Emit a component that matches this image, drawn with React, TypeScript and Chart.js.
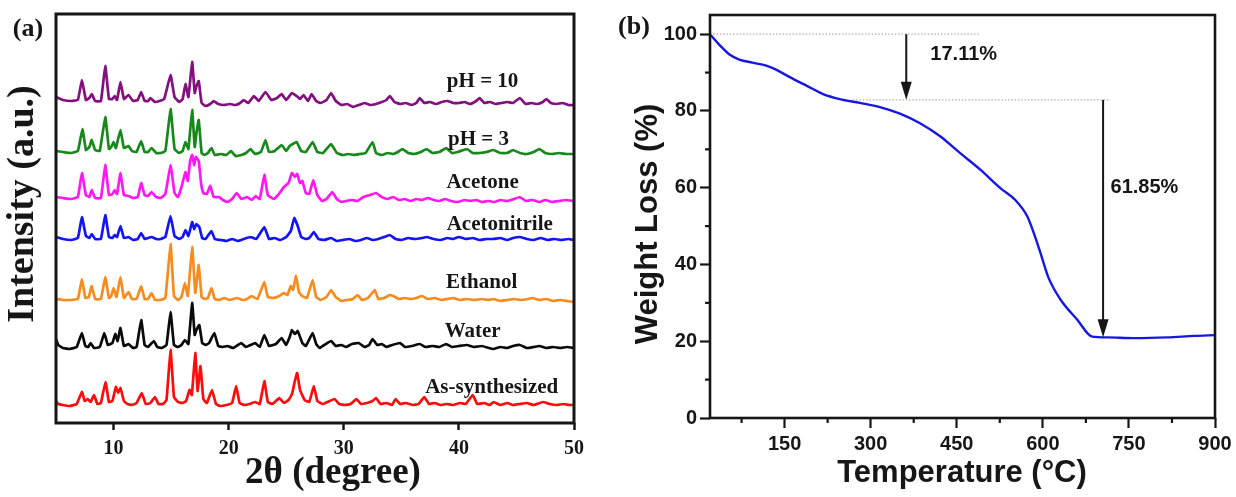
import { useEffect, useRef } from 'react';
import { Chart, registerables } from 'chart.js';

Chart.register(...registerables);

// ---------- (a) XRD patterns: [2θ (degree), stacked intensity (a.u.)] ----------
const ph10: [number, number][] = [
  [5.0, 326], [5.6, 323], [6.3, 322], [6.9, 323], [7.25, 343], [7.6, 323], [7.9, 325], [8.1, 329], [8.4, 322], [8.9, 322],
  [9.28, 357], [9.6, 324], [9.9, 324], [10.1, 327], [10.3, 323], [10.6, 341], [10.9, 324], [11.3, 328], [11.7, 322], [12.1, 323],
  [12.4, 331], [12.7, 322], [13.0, 322], [13.2, 325], [13.6, 321], [14.0, 322], [14.4, 324], [14.95, 348], [15.3, 326], [15.7, 321],
  [16.0, 324], [16.25, 339], [16.5, 326], [16.83, 361], [17.05, 330], [17.2, 337], [17.4, 342], [17.65, 320], [18.0, 317], [18.4, 319],
  [18.7, 322], [19.1, 319], [19.6, 318], [20.1, 319], [20.6, 318], [21.0, 320], [21.3, 323], [21.7, 320], [22.2, 327], [22.6, 322],
  [23.2, 331], [23.7, 323], [24.2, 325], [24.6, 329], [25.0, 323], [25.5, 330], [25.9, 327], [26.2, 324], [26.5, 328], [26.9, 322],
  [27.2, 329], [27.6, 322], [28.0, 320], [28.5, 323], [28.9, 330], [29.3, 322], [29.8, 318], [30.3, 319], [30.8, 316], [31.3, 318],
  [31.8, 320], [32.3, 318], [32.8, 319], [33.3, 321], [33.7, 323], [34.0, 327], [34.4, 321], [34.9, 319], [35.4, 320], [35.9, 318],
  [36.3, 320], [36.6, 325], [37.0, 320], [37.5, 321], [38.0, 319], [38.5, 321], [39.0, 322], [39.5, 320], [40.0, 320], [40.5, 321],
  [41.0, 319], [41.5, 322], [41.8, 325], [42.2, 320], [42.7, 321], [43.2, 319], [43.7, 320], [44.2, 321], [44.7, 320], [45.3, 325],
  [45.8, 319], [46.3, 320], [46.8, 319], [47.3, 321], [47.6, 324], [48.0, 320], [48.5, 319], [49.0, 320], [49.5, 318], [50.0, 318],
];

const ph3: [number, number][] = [
  [5.0, 272], [5.6, 271], [6.3, 270], [6.9, 272], [7.3, 294], [7.6, 273], [7.9, 276], [8.1, 283], [8.4, 273], [8.8, 272],
  [9.28, 306], [9.6, 274], [9.8, 276], [10.0, 281], [10.2, 275], [10.6, 293], [10.9, 275], [11.3, 277], [11.6, 272], [12.0, 271],
  [12.4, 282], [12.7, 271], [13.0, 271], [13.3, 275], [13.7, 270], [14.1, 270], [14.5, 272], [14.95, 314], [15.3, 274], [15.7, 270],
  [16.0, 272], [16.25, 281], [16.5, 274], [16.83, 313], [17.05, 276], [17.2, 290], [17.4, 303], [17.65, 270], [17.9, 268], [18.2, 270],
  [18.5, 275], [18.8, 268], [19.3, 269], [19.8, 268], [20.2, 272], [20.6, 267], [21.1, 268], [21.5, 270], [21.9, 274], [22.3, 269],
  [22.8, 271], [23.2, 283], [23.5, 271], [24.0, 272], [24.6, 278], [25.0, 272], [25.3, 277], [25.9, 281], [26.3, 272], [26.7, 271],
  [27.3, 281], [27.7, 271], [28.2, 270], [28.9, 279], [29.4, 270], [29.9, 268], [30.4, 269], [30.9, 268], [31.4, 269], [31.9, 270],
  [32.5, 281], [32.8, 270], [33.3, 268], [33.8, 270], [34.3, 269], [34.7, 271], [35.1, 274], [35.6, 270], [36.1, 269], [36.7, 271],
  [37.2, 274], [37.7, 270], [38.3, 271], [38.9, 275], [39.4, 270], [39.9, 271], [40.7, 274], [41.2, 270], [41.8, 270], [42.4, 271],
  [43.0, 273], [43.6, 270], [44.2, 270], [44.7, 273], [45.3, 270], [45.9, 269], [46.5, 271], [47.0, 274], [47.5, 270], [48.1, 269],
  [48.7, 270], [49.3, 269], [50.0, 269],
];

const acetone: [number, number][] = [
  [5.0, 226], [5.6, 225], [6.3, 224], [6.9, 226], [7.25, 250], [7.6, 228], [7.9, 226], [8.1, 233], [8.4, 225], [8.9, 225],
  [9.28, 258], [9.6, 228], [9.9, 229], [10.1, 233], [10.3, 229], [10.6, 250], [10.9, 228], [11.3, 227], [11.7, 225], [12.1, 226],
  [12.4, 240], [12.7, 228], [13.0, 227], [13.3, 231], [13.7, 226], [14.1, 225], [14.5, 229], [14.95, 258], [15.3, 230], [15.6, 226],
  [15.9, 236], [16.25, 251], [16.45, 242], [16.65, 262], [16.83, 268], [17.0, 258], [17.15, 266], [17.4, 262], [17.6, 240], [17.8, 230],
  [18.1, 229], [18.4, 237], [18.7, 226], [19.15, 226], [19.5, 223], [19.9, 221], [20.3, 224], [20.7, 230], [21.1, 224], [21.6, 226],
  [22.0, 223], [22.35, 227], [22.7, 224], [23.1, 248], [23.4, 228], [23.9, 224], [24.3, 228], [24.8, 236], [25.2, 240], [25.5, 250],
  [25.75, 246], [25.95, 249], [26.2, 240], [26.4, 242], [26.7, 230], [27.0, 229], [27.35, 243], [27.7, 228], [28.1, 222], [28.5, 224],
  [29.0, 231], [29.4, 224], [29.8, 221], [30.2, 222], [30.7, 223], [31.2, 222], [31.7, 226], [32.3, 228], [32.8, 230], [33.3, 226],
  [33.8, 224], [34.3, 226], [34.8, 223], [35.3, 224], [35.8, 222], [36.3, 224], [36.8, 223], [37.3, 225], [37.8, 223], [38.3, 222],
  [38.8, 224], [39.3, 222], [39.9, 221], [40.5, 223], [41.0, 222], [41.5, 223], [42.0, 221], [42.6, 222], [43.1, 221], [43.6, 223],
  [44.2, 222], [44.8, 224], [45.3, 226], [45.8, 222], [46.4, 223], [47.0, 221], [47.5, 223], [48.1, 221], [48.7, 222], [49.3, 223],
  [50.0, 222],
];

const acetonitrile: [number, number][] = [
  [5.0, 186], [5.6, 184], [6.3, 183], [6.9, 185], [7.25, 206], [7.6, 187], [7.9, 185], [8.1, 189], [8.4, 184], [8.9, 184],
  [9.28, 208], [9.6, 186], [9.9, 185], [10.1, 188], [10.3, 186], [10.6, 197], [10.9, 185], [11.3, 186], [11.7, 183], [12.1, 184],
  [12.4, 190], [12.7, 184], [13.0, 185], [13.3, 186], [13.7, 184], [14.1, 184], [14.5, 186], [14.95, 207], [15.3, 187], [15.7, 184],
  [16.0, 186], [16.25, 193], [16.5, 187], [16.83, 201], [17.0, 194], [17.2, 199], [17.45, 196], [17.7, 185], [18.0, 184], [18.5, 192],
  [18.8, 184], [19.3, 183], [19.8, 182], [20.3, 184], [20.8, 182], [21.3, 184], [21.9, 186], [22.4, 184], [23.1, 196], [23.5, 184],
  [24.0, 185], [24.5, 183], [25.0, 186], [25.4, 192], [25.7, 205], [26.0, 197], [26.3, 186], [26.7, 184], [27.0, 185], [27.4, 191],
  [27.8, 184], [28.3, 183], [28.9, 185], [29.4, 182], [29.9, 183], [30.5, 184], [31.0, 182], [31.5, 183], [32.0, 185], [32.5, 183],
  [33.0, 184], [33.5, 186], [34.0, 188], [34.5, 184], [35.0, 183], [35.6, 185], [36.2, 184], [36.8, 185], [37.2, 186], [37.8, 184],
  [38.4, 183], [39.0, 185], [39.5, 184], [40.0, 186], [40.6, 184], [41.2, 185], [41.8, 183], [42.4, 184], [43.0, 184], [43.6, 185],
  [44.2, 183], [44.7, 185], [45.3, 186], [45.9, 184], [46.5, 183], [47.1, 185], [47.7, 183], [48.3, 184], [48.9, 183], [49.5, 184],
  [50.0, 183],
];

const ethanol: [number, number][] = [
  [5.0, 124], [5.6, 123], [6.3, 123], [6.9, 124], [7.25, 144], [7.55, 125], [7.85, 126], [8.1, 137], [8.4, 124], [8.9, 124],
  [9.28, 146], [9.6, 125], [9.8, 127], [10.0, 135], [10.25, 126], [10.6, 146], [10.9, 125], [11.3, 131], [11.6, 124], [12.0, 124],
  [12.4, 137], [12.7, 124], [13.0, 124], [13.3, 130], [13.6, 123], [14.0, 123], [14.5, 125], [14.95, 179], [15.25, 127], [15.6, 123],
  [15.9, 126], [16.2, 140], [16.45, 127], [16.83, 176], [17.1, 130], [17.4, 158], [17.65, 126], [17.9, 124], [18.2, 125], [18.5, 135],
  [18.8, 124], [19.2, 123], [19.6, 125], [20.1, 123], [20.7, 125], [21.2, 123], [21.6, 124], [22.0, 127], [22.5, 124], [23.1, 141],
  [23.4, 126], [23.9, 125], [24.4, 127], [24.8, 130], [25.1, 128], [25.4, 137], [25.6, 133], [25.85, 147], [26.1, 131], [26.4, 127],
  [26.8, 125], [27.3, 143], [27.6, 126], [28.0, 123], [28.5, 126], [28.9, 133], [29.3, 126], [29.8, 122], [30.3, 123], [30.8, 124],
  [31.2, 128], [31.6, 123], [32.1, 125], [32.7, 133], [33.0, 124], [33.5, 125], [34.0, 128], [34.3, 127], [34.8, 124], [35.3, 125],
  [35.8, 124], [36.3, 125], [36.8, 127], [37.3, 124], [37.9, 125], [38.5, 123], [39.0, 124], [39.5, 125], [40.1, 123], [40.7, 124],
  [41.3, 123], [42.0, 124], [42.6, 123], [43.0, 124], [43.6, 122], [44.2, 123], [44.8, 124], [45.4, 123], [46.0, 124], [46.4, 125],
  [47.0, 123], [47.6, 124], [48.2, 122], [48.8, 123], [49.4, 122], [50.0, 121],
];

const water: [number, number][] = [
  [5.0, 84], [5.2, 78], [5.6, 75], [6.2, 74], [6.8, 76], [7.25, 90], [7.55, 77], [7.8, 76], [8.0, 80], [8.3, 75],
  [8.8, 76], [9.2, 90], [9.5, 78], [9.9, 80], [10.15, 89], [10.35, 82], [10.6, 95], [10.9, 77], [11.3, 79], [11.7, 75],
  [12.0, 76], [12.4, 103], [12.7, 78], [13.0, 76], [13.5, 82], [13.8, 76], [14.2, 75], [14.6, 78], [14.95, 111], [15.25, 78],
  [15.6, 76], [15.9, 78], [16.2, 83], [16.5, 79], [16.83, 120], [17.05, 88], [17.2, 93], [17.45, 98], [17.7, 80], [18.0, 78],
  [18.3, 80], [18.75, 90], [19.1, 77], [19.5, 76], [19.9, 77], [20.4, 75], [20.8, 78], [21.1, 80], [21.5, 76], [21.9, 78],
  [22.3, 80], [22.7, 76], [23.1, 88], [23.5, 77], [24.1, 79], [24.6, 85], [25.0, 78], [25.3, 86], [25.5, 93], [25.75, 89],
  [26.0, 92], [26.4, 80], [26.7, 77], [27.3, 90], [27.6, 79], [27.9, 75], [28.3, 78], [28.9, 82], [29.3, 77], [29.8, 78],
  [30.2, 76], [30.7, 79], [31.3, 80], [31.8, 76], [32.2, 78], [32.5, 84], [32.9, 78], [33.3, 79], [33.7, 76], [34.2, 78],
  [34.9, 80], [35.3, 76], [35.9, 77], [36.6, 79], [37.1, 76], [37.7, 77], [38.3, 76], [38.9, 79], [39.4, 76], [40.0, 77],
  [40.7, 78], [41.3, 76], [42.0, 77], [42.6, 75], [43.0, 74], [43.6, 76], [44.2, 75], [44.7, 77], [45.3, 78], [45.9, 75],
  [46.5, 76], [47.0, 77], [47.6, 75], [48.2, 76], [48.8, 75], [49.4, 76], [50.0, 75],
];

const asSynthesized: [number, number][] = [
  [5.0, 22], [5.2, 19], [5.6, 18], [6.2, 17], [6.8, 19], [7.25, 31], [7.5, 22], [7.75, 24], [8.0, 21], [8.3, 28],
  [8.6, 19], [8.9, 20], [9.3, 41], [9.6, 21], [9.9, 22], [10.2, 36], [10.4, 30], [10.6, 35], [10.9, 22], [11.2, 19],
  [11.6, 18], [12.0, 20], [12.45, 30], [12.8, 19], [13.2, 20], [13.6, 26], [13.9, 19], [14.3, 19], [14.6, 23], [14.95, 73],
  [15.25, 26], [15.6, 21], [16.0, 20], [16.3, 22], [16.6, 33], [16.8, 28], [17.1, 70], [17.3, 32], [17.55, 57], [17.8, 24],
  [18.1, 20], [18.55, 33], [18.9, 19], [19.3, 17], [19.8, 18], [20.3, 20], [20.65, 37], [20.95, 20], [21.4, 18], [21.8, 19],
  [22.3, 21], [22.7, 19], [23.1, 42], [23.4, 21], [23.8, 19], [24.1, 22], [24.4, 25], [24.8, 20], [25.2, 23], [25.5, 29],
  [25.75, 42], [25.95, 50], [26.2, 33], [26.6, 23], [27.0, 21], [27.4, 37], [27.7, 22], [28.2, 19], [28.6, 21], [29.2, 24],
  [29.6, 19], [30.1, 18], [30.6, 19], [31.1, 24], [31.5, 19], [32.0, 20], [32.5, 22], [32.8, 25], [33.2, 19], [33.7, 20],
  [34.2, 18], [34.5, 24], [34.9, 19], [35.4, 20], [36.0, 18], [36.5, 19], [37.0, 26], [37.4, 19], [37.9, 20], [38.4, 18],
  [38.9, 19], [39.5, 18], [40.1, 20], [40.6, 19], [41.2, 28], [41.6, 19], [42.2, 20], [42.7, 18], [43.0, 21], [43.6, 18],
  [44.2, 20], [44.7, 18], [45.3, 19], [45.9, 20], [46.5, 18], [47.3, 21], [47.9, 19], [48.5, 18], [49.1, 19], [49.6, 18],
  [50.0, 18],
];

const xrdSeries = [ph10, ph3, acetone, acetonitrile, ethanol, water, asSynthesized];
const xrdNames = ['pH = 10', 'pH = 3', 'Acetone', 'Acetonitrile', 'Ethanol', 'Water', 'As-synthesized'];
const xrdColors = ['#82107f', '#17891c', '#ff18f0', '#1414f5', '#f68b1f', '#0a0a0a', '#fb0d0d'];
// where each pattern's name sits: [2θ, intensity]
const xrdNameAt: [number, number][] = [
  [42.06, 341], [41.7, 283], [42.06, 240], [43.55, 198], [41.98, 140], [41.2, 91], [42.85, 35],
];
const xrdTicks = [10, 20, 30, 40, 50];

// ---------- (b) TGA curve ----------
const tgaTemp = [20, 36, 54, 71, 94, 118, 136, 159, 188, 217, 246, 281, 316, 351, 386, 421, 456, 491, 526, 552, 573, 587, 598, 610, 631, 660, 686, 713, 759, 817, 864, 900];
const tgaWeight = [100.0, 97.3, 94.7, 93.4, 92.6, 91.8, 90.7, 88.8, 86.6, 84.4, 83.1, 82.1, 81.0, 79.3, 76.8, 73.4, 69.0, 64.7, 59.9, 56.8, 52.5, 47.0, 42.0, 36.5, 30.8, 25.6, 21.2, 21.0, 20.8, 21.0, 21.4, 21.6];
const tempTicks = [150, 300, 450, 600, 750, 900];
const tempMinorTicks = [75, 225, 375, 525, 675, 825];
const weightTicks = [0, 20, 40, 60, 80, 100];
const weightMinorTicks = [10, 30, 50, 70, 90];
// two mass-loss steps (%)
const stepLosses = [17.11, 61.85];

const SERIF = "'Liberation Serif', 'Times New Roman', Times, serif";
const SANS = "'Liberation Sans', Arial, Helvetica, sans-serif";
const INK = '#161616';

type Caption = {
  text: string;
  x: number;
  y: number;
  font: string;
  rotate?: boolean;
  align?: CanvasTextAlign;
  inData?: boolean;
};

function captionPlugin(id: string, captions: Caption[]) {
  return {
    id,
    afterDraw(chart: Chart) {
      const { ctx } = chart;
      const xs = chart.scales.x;
      const ys = chart.scales.y;
      ctx.save();
      ctx.fillStyle = INK;
      ctx.textBaseline = 'middle';
      for (const c of captions) {
        const px = c.inData ? xs.getPixelForValue(c.x) : c.x;
        const py = c.inData ? ys.getPixelForValue(c.y) : c.y;
        ctx.font = c.font;
        ctx.textAlign = c.align ?? 'center';
        if (c.rotate) {
          ctx.save();
          ctx.translate(px, py);
          ctx.rotate(-Math.PI / 2);
          ctx.fillText(c.text, 0, 0);
          ctx.restore();
        } else {
          ctx.fillText(c.text, px, py);
        }
      }
      ctx.restore();
    },
  };
}

function framePlugin(id: string, width: number) {
  return {
    id,
    afterDatasetsDraw(chart: Chart) {
      const { ctx, chartArea: a } = chart;
      ctx.save();
      ctx.strokeStyle = INK;
      ctx.lineWidth = width;
      ctx.strokeRect(a.left, a.top, a.right - a.left, a.bottom - a.top);
      ctx.restore();
    },
  };
}

function buildXrd(canvas: HTMLCanvasElement) {
  const captions: Caption[] = [
    { text: '(a)', x: 28, y: 29, font: `bold 26px ${SERIF}` },
    { text: 'Intensity (a.u.)', x: 23, y: 204, font: `bold 38px ${SERIF}`, rotate: true },
    { text: '2θ (degree)', x: 333, y: 473, font: `bold 37px ${SERIF}` },
    ...xrdNames.map((n, i) => ({
      text: n,
      x: xrdNameAt[i][0],
      y: xrdNameAt[i][1],
      font: `bold 21px ${SERIF}`,
      inData: true,
    })),
  ];
  return new Chart(canvas, {
    type: 'line',
    data: {
      datasets: xrdSeries.map((pts, i) => ({
        label: xrdNames[i],
        data: pts.map(([x, y]) => ({ x, y })),
        borderColor: xrdColors[i],
        borderWidth: 2.7,
        borderJoinStyle: 'round' as const,
        pointRadius: 0,
        tension: 0.1,
        fill: false,
      })),
    },
    options: {
      responsive: false,
      animation: false,
      events: [],
      layout: { padding: { left: 56, right: 26, top: 14, bottom: 0 } },
      plugins: { legend: { display: false }, tooltip: { enabled: false } },
      scales: {
        x: {
          type: 'linear',
          min: 5,
          max: 50,
          afterBuildTicks: (s: any) => {
            s.ticks = xrdTicks.map((v) => ({ value: v }));
          },
          afterFit: (s: any) => {
            s.height = 74;
          },
          ticks: {
            autoSkip: false,
            maxRotation: 0,
            padding: 7,
            color: INK,
            font: { family: SERIF, size: 20, weight: 'bold' },
          },
          grid: { drawOnChartArea: false, drawTicks: true, tickLength: 7, tickWidth: 2.5, tickColor: INK },
          border: { display: false },
        },
        y: { type: 'linear', min: 0, max: 409, display: false },
      },
    },
    plugins: [framePlugin('xrdFrame', 3), captionPlugin('xrdText', captions)],
  } as any);
}

const tgaMarks = {
  id: 'tgaMarks',
  afterDatasetsDraw(chart: Chart) {
    const { ctx, chartArea: a } = chart;
    const xs = chart.scales.x;
    const ys = chart.scales.y;
    const level1 = 100;
    const level2 = level1 - stepLosses[0];
    const level3 = level2 - stepLosses[1];
    ctx.save();

    // dotted guide lines at the start and end of the first step
    ctx.strokeStyle = '#b0b0b0';
    ctx.lineWidth = 1.3;
    ctx.setLineDash([1.5, 1.8]);
    const guide = (t0: number, t1: number, w: number) => {
      const y = ys.getPixelForValue(w);
      ctx.beginPath();
      ctx.moveTo(xs.getPixelForValue(t0), y);
      ctx.lineTo(xs.getPixelForValue(t1), y);
      ctx.stroke();
    };
    guide(20, 491, level1);
    guide(269, 718, level2);
    ctx.setLineDash([]);

    // downward arrows spanning each loss step
    ctx.strokeStyle = INK;
    ctx.fillStyle = INK;
    ctx.lineWidth = 2;
    const arrow = (t: number, wTop: number, wTip: number) => {
      const x = xs.getPixelForValue(t);
      const y0 = ys.getPixelForValue(wTop);
      const y1 = ys.getPixelForValue(wTip);
      const head = 18;
      const half = 5.5;
      ctx.beginPath();
      ctx.moveTo(x, y0);
      ctx.lineTo(x, y1 - head + 2);
      ctx.stroke();
      ctx.beginPath();
      ctx.moveTo(x, y1);
      ctx.lineTo(x - half, y1 - head);
      ctx.lineTo(x + half, y1 - head);
      ctx.closePath();
      ctx.fill();
    };
    arrow(362, level1, level2);
    arrow(705, level2, level3);

    // minor ticks
    ctx.lineWidth = 2.2;
    for (const v of tempMinorTicks) {
      const x = xs.getPixelForValue(v);
      ctx.beginPath();
      ctx.moveTo(x, a.bottom);
      ctx.lineTo(x, a.bottom + 5);
      ctx.stroke();
    }
    for (const v of weightMinorTicks) {
      const y = ys.getPixelForValue(v);
      ctx.beginPath();
      ctx.moveTo(a.left, y);
      ctx.lineTo(a.left - 5, y);
      ctx.stroke();
    }
    ctx.restore();
  },
};

function buildTga(canvas: HTMLCanvasElement) {
  const captions: Caption[] = [
    { text: '(b)', x: 34, y: 27, font: `bold 26px ${SERIF}` },
    { text: 'Weight Loss (%)', x: 48, y: 224, font: `bold 31px ${SANS}`, rotate: true },
    { text: 'Temperature (°C)', x: 362, y: 473, font: `bold 31px ${SANS}` },
    { text: `${stepLosses[0].toFixed(2)}%`, x: 404, y: 94.7, font: `bold 20px ${SANS}`, align: 'left', inData: true },
    { text: `${stepLosses[1].toFixed(2)}%`, x: 718, y: 60, font: `bold 20px ${SANS}`, align: 'left', inData: true },
  ];
  const tickFont = { family: SANS, size: 20, weight: 'bold' };
  return new Chart(canvas, {
    type: 'line',
    data: {
      datasets: [
        {
          label: 'TGA',
          data: tgaTemp.map((t, i) => ({ x: t, y: tgaWeight[i] })),
          borderColor: '#1717e0',
          borderWidth: 2.4,
          pointRadius: 0,
          cubicInterpolationMode: 'monotone',
          fill: false,
        },
      ],
    },
    options: {
      responsive: false,
      animation: false,
      events: [],
      layout: { padding: { left: 0, right: 21, top: 15, bottom: 0 } },
      plugins: { legend: { display: false }, tooltip: { enabled: false } },
      scales: {
        x: {
          type: 'linear',
          min: 20,
          max: 900,
          afterBuildTicks: (s: any) => {
            s.ticks = tempTicks.map((v) => ({ value: v }));
          },
          afterFit: (s: any) => {
            s.height = 79;
          },
          ticks: { autoSkip: false, maxRotation: 0, padding: 4, color: INK, font: tickFont },
          grid: { drawOnChartArea: false, drawTicks: true, tickLength: 10, tickWidth: 2.2, tickColor: INK },
          border: { display: false },
        },
        y: {
          type: 'linear',
          min: 0,
          max: 105,
          afterBuildTicks: (s: any) => {
            s.ticks = weightTicks.map((v) => ({ value: v }));
          },
          afterFit: (s: any) => {
            s.width = 110;
          },
          ticks: { autoSkip: false, padding: 3, color: INK, font: tickFont },
          grid: { drawOnChartArea: false, drawTicks: true, tickLength: 10, tickWidth: 2.2, tickColor: INK },
          border: { display: false },
        },
      },
    },
    plugins: [tgaMarks, framePlugin('tgaFrame', 2.6), captionPlugin('tgaText', captions)],
  } as any);
}

function Panel({ left, width, build }: { left: number; width: number; build: (c: HTMLCanvasElement) => Chart }) {
  const ref = useRef<HTMLCanvasElement>(null);
  useEffect(() => {
    const chart = build(ref.current as HTMLCanvasElement);
    return () => chart.destroy();
  }, [build]);
  return (
    <canvas
      ref={ref}
      width={width}
      height={497}
      style={{ position: 'absolute', left, top: 0, width, height: 497, display: 'block' }}
    />
  );
}

export default function App() {
  return (
    <div style={{ position: 'absolute', left: 0, top: 0, width: 1236, height: 497, background: '#fff', overflow: 'hidden' }}>
      <Panel left={0} width={600} build={buildXrd} />
      <Panel left={600} width={636} build={buildTga} />
    </div>
  );
}
